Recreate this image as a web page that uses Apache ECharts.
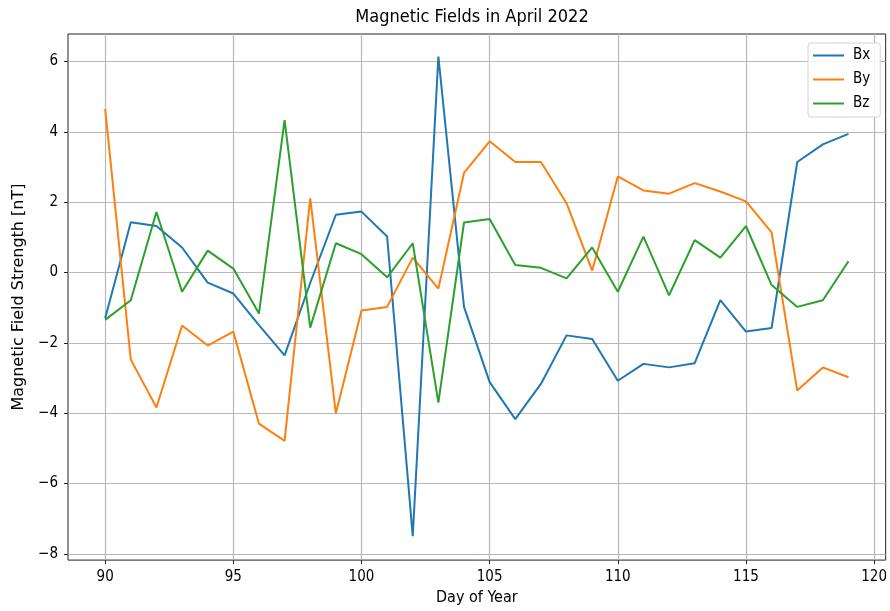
<!DOCTYPE html>
<html>
<head>
<meta charset="utf-8">
<script src="https://cdn.jsdelivr.net/npm/echarts@6/dist/echarts.min.js"></script>
<style>
  html, body { margin: 0; padding: 0; background: #ffffff; }
  #chart { width: 890px; height: 611px; }
</style>
</head>
<body>
<div id="chart"></div>
<script>
// Day of year (April 2022)
const days = [90, 91, 92, 93, 94, 95, 96, 97, 98, 99, 100, 101, 102, 103, 104,
              105, 106, 107, 108, 109, 110, 111, 112, 113, 114, 115, 116, 117, 118, 119];

// Field components in nT
const bx = [-1.3, 1.43, 1.32, 0.71, -0.29, -0.6, -1.5, -2.36, -0.3, 1.64, 1.73, 1.02, -7.5, 6.14, -0.98,
            -3.12, -4.17, -3.17, -1.79, -1.89, -3.08, -2.6, -2.7, -2.58, -0.79, -1.68, -1.58, 3.14, 3.64, 3.94];
const by = [4.65, -2.48, -3.84, -1.51, -2.08, -1.68, -4.3, -4.79, 2.11, -4.01, -1.08, -0.98, 0.42, -0.46, 2.83,
            3.73, 3.14, 3.14, 1.97, 0.05, 2.73, 2.33, 2.24, 2.54, 2.3, 2.02, 1.14, -3.36, -2.7, -2.98];
const bz = [-1.35, -0.79, 1.72, -0.55, 0.62, 0.11, -1.17, 4.33, -1.57, 0.83, 0.52, -0.14, 0.83, -3.7, 1.42,
            1.52, 0.21, 0.13, -0.17, 0.71, -0.55, 1.02, -0.65, 0.92, 0.42, 1.32, -0.36, -0.98, -0.79, 0.32];

// Tick positions
const xTicks = [90, 95, 100, 105, 110, 115, 120];
const yTicks = [-8, -6, -4, -2, 0, 2, 4, 6];

const FONT = '"DejaVu Sans Condensed", "DejaVu Sans"';
const FONT_WIDE = 'DejaVu Sans';
const colors = ['#1f77b4', '#ff7f0e', '#2ca02c'];

const minusSign = v => String(v).replace('-', '\u2212');

function lineSeries(name, values, color) {
  return {
    name: name,
    type: 'line',
    data: days.map((d, i) => [d, values[i]]),
    showSymbol: false,
    symbol: 'none',
    lineStyle: { color: color, width: 2 },
    itemStyle: { color: color },
    emphasis: { disabled: true },
    animation: false
  };
}

const chart = echarts.init(document.getElementById('chart'), null, { renderer: 'canvas' });

chart.setOption({
  animation: false,
  backgroundColor: '#ffffff',
  textStyle: { fontFamily: FONT },
  graphic: [{
    type: 'text',
    x: 472,
    y: 17,
    style: {
      text: 'Magnetic Fields in April 2022',
      font: '18px "DejaVu Sans Condensed", "DejaVu Sans"',
      fill: '#000000',
      align: 'center',
      verticalAlign: 'middle'
    }
  }],
  grid: {
    left: 68, top: 34, right: 3, bottom: 50,
    show: true,
    borderColor: '#222222',
    borderWidth: 1,
    backgroundColor: 'transparent'
  },
  legend: {
    orient: 'vertical',
    left: 808,
    top: 43,
    padding: [4, 10, 5, 5],
    itemGap: 7,
    itemWidth: 31,
    itemHeight: 2,
    icon: 'rect',
    backgroundColor: 'rgba(255,255,255,0.85)',
    borderColor: '#d4d4d4',
    borderWidth: 1,
    borderRadius: 3,
    textStyle: { fontFamily: FONT, fontSize: 15, lineHeight: 17, color: '#000000', padding: [0, 0, 0, 4] },
    data: ['Bx', 'By', 'Bz']
  },
  xAxis: {
    type: 'value',
    min: 88.55,
    max: 120.45,
    name: 'Day of Year',
    nameLocation: 'middle',
    nameGap: 28,
    nameTextStyle: { fontFamily: FONT, fontSize: 16, color: '#000000' },
    axisLine: { show: false, onZero: false },
    axisTick: { show: true, length: 4, lineStyle: { color: '#222222' }, customValues: xTicks },
    axisLabel: { fontFamily: FONT, fontSize: 15, color: '#000000', margin: 10, customValues: xTicks },
    splitLine: { show: true, lineStyle: { color: '#b8b8b8', width: 1.2 } }
  },
  yAxis: {
    type: 'value',
    min: -8.18,
    max: 6.78,
    name: 'Magnetic Field Strength [nT]',
    nameLocation: 'middle',
    nameGap: 40,
    nameTextStyle: { fontFamily: FONT_WIDE, fontSize: 16, color: '#000000' },
    axisLine: { show: false, onZero: false },
    axisTick: { show: true, length: 4, lineStyle: { color: '#222222' }, customValues: yTicks },
    axisLabel: { fontFamily: FONT, fontSize: 15, color: '#000000', margin: 10,
                 customValues: yTicks, formatter: minusSign },
    splitLine: { show: true, lineStyle: { color: '#b8b8b8', width: 1.2 } }
  },
  series: [
    lineSeries('Bx', bx, colors[0]),
    lineSeries('By', by, colors[1]),
    lineSeries('Bz', bz, colors[2])
  ]
});
</script>
</body>
</html>
